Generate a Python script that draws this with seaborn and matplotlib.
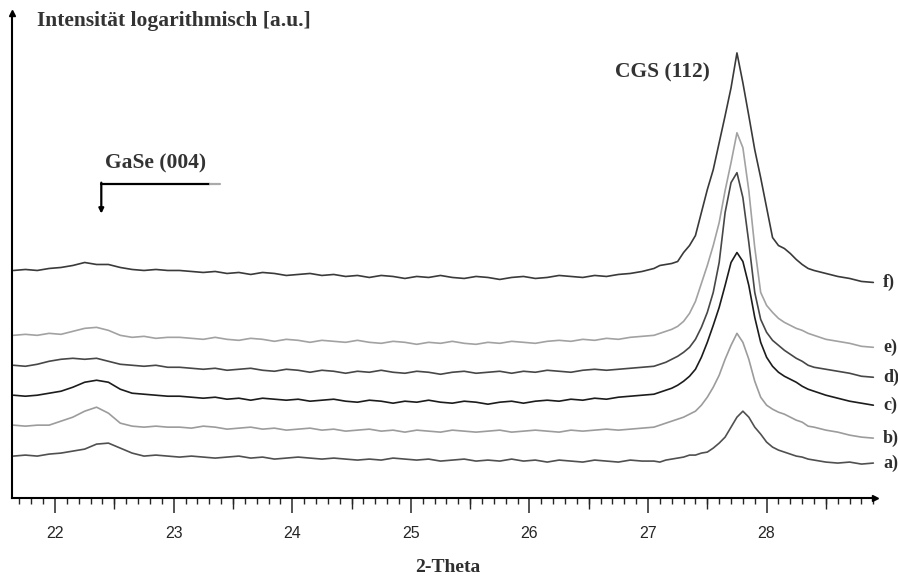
import numpy as np
import pandas as pd
import matplotlib
matplotlib.use("Agg")
import matplotlib.pyplot as plt
import seaborn as sns
from matplotlib.ticker import MultipleLocator, FixedLocator, NullFormatter

sns.set_style("white")
plt.rcParams["font.family"] = ["Liberation Serif", "DejaVu Serif"]

# 2-theta sampling: coarse over the flat background, finer across the CGS (112) reflection
two_theta = np.round(np.concatenate([
    np.linspace(21.65, 27.05, 55),
    np.linspace(27.10, 28.40, 27),
    np.linspace(28.50, 28.90, 5),
]), 3)

# logarithmic intensity (a.u.), patterns offset vertically, sample a) at the bottom
curve_a = [41, 42, 41, 43, 44, 46, 48, 53, 54, 49, 44, 41, 42, 41,
           40, 41, 40, 39, 40, 41, 39, 40, 38, 39, 40, 39, 38, 39, 38, 37, 38, 37, 39, 38,
           37, 38, 36, 37, 38, 36, 37, 36, 38, 36, 37, 35, 37, 36, 35, 37, 36, 35, 37, 36,
           36,
           35, 37, 38, 39, 40, 42, 42, 44, 45, 49, 54, 60, 70, 80, 86, 80, 70, 63, 55, 50,
           47, 45, 43, 41, 40, 38, 37,
           35, 34, 35, 33, 34]
curve_b = [72, 71, 72, 72, 76, 80, 86, 90, 84, 74, 71, 70, 71, 70,
           70, 69, 71, 70, 68, 69, 70, 68, 69, 67, 68, 69, 67, 68, 66, 67, 68, 66, 67, 65,
           67, 66, 65, 67, 66, 65, 66, 67, 65, 66, 67, 66, 65, 67, 66, 67, 68, 67, 68, 69,
           70,
           72, 74, 76, 78, 80, 83, 86, 92, 100, 110, 122, 138, 152, 164, 155, 138, 116, 100,
           92, 88, 85, 83, 80, 77, 75, 71, 70,
           67, 65, 62, 60, 59]
curve_c = [102, 101, 102, 104, 106, 110, 115, 117, 115, 108, 104, 103, 102, 101,
           101, 100, 99, 100, 98, 99, 97, 99, 98, 97, 98, 96, 97, 98, 96, 95, 97, 96, 94, 96,
           95, 97, 95, 94, 96, 95, 93, 95, 96, 94, 96, 97, 96, 98, 97, 99, 98, 100, 101, 102,
           103,
           105, 107, 109, 112, 116, 121, 128, 140, 155, 172, 190, 212, 235, 245, 236, 212,
           180, 155, 140, 131, 125, 121, 118, 115, 111, 108, 106,
           102, 99, 96, 94, 92]
curve_d = [132, 131, 133, 136, 138, 139, 138, 139, 136, 133, 132, 131, 132, 130,
           130, 129, 128, 129, 127, 128, 129, 127, 126, 128, 127, 125, 127, 126, 124, 126,
           125, 127, 125, 124, 126, 125, 123, 125, 126, 124, 125, 126, 124, 126, 125, 127,
           126, 125, 127, 128, 127, 128, 129, 130,
           131,
           133, 135, 138, 141, 145, 150, 158, 170, 185, 205, 235, 285, 315, 325, 300, 255,
           205, 178, 165, 157, 152, 147, 143, 139, 136, 132, 130,
           128, 126, 124, 121, 120]
curve_e = [162, 163, 162, 164, 163, 166, 169, 170, 167, 162, 160, 161, 159, 160,
           160, 159, 158, 160, 158, 157, 159, 158, 156, 158, 157, 155, 157, 156, 155, 157,
           155, 154, 156, 155, 153, 155, 154, 156, 154, 153, 155, 154, 156, 155, 154, 156,
           157, 156, 158, 157, 159, 158, 160, 161,
           162,
           164, 166, 168, 171, 176, 184, 196, 214, 232, 252, 275, 307, 335, 365, 350, 307,
           250, 205, 192, 185, 179, 175, 172, 169, 167, 164, 162,
           158, 156, 154, 151, 150]
curve_f = [227, 228, 227, 229, 230, 232, 235, 233, 233, 230, 228, 227, 228, 227,
           227, 226, 225, 226, 224, 225, 223, 225, 224, 222, 223, 224, 222, 223, 221, 222,
           220, 222, 221, 219, 221, 220, 222, 220, 219, 221, 220, 218, 220, 221, 219, 220,
           222, 221, 220, 222, 221, 223, 224, 226,
           229,
           232, 233, 234, 236, 245, 252, 262, 285, 308, 328, 355, 382, 410, 445, 415, 382,
           348, 320, 290, 260, 252, 249, 244, 238, 233, 229, 227,
           224, 221, 219, 216, 215]

sample_labels = ["a)", "b)", "c)", "d)", "e)", "f)"]
curves = [curve_a, curve_b, curve_c, curve_d, curve_e, curve_f]
line_colors = ["#505050", "#9c9c9c", "#1c1c1c", "#474747", "#a2a2a2", "#3a3a3a"]

df = pd.concat(
    [pd.DataFrame({"two_theta": two_theta, "intensity": vals, "sample": lab})
     for lab, vals in zip(sample_labels, curves)],
    ignore_index=True,
)

fig = plt.figure(figsize=(8.98, 5.81), dpi=100)
ax = fig.add_axes([12 / 898, 1 - 498 / 581, 863 / 898, 485 / 581])

sns.lineplot(data=df, x="two_theta", y="intensity", hue="sample",
             palette=dict(zip(sample_labels, line_colors)), estimator=None,
             sort=False, legend=False, linewidth=1.2, ax=ax)

ax.set_xlim(21.637, 28.914)
ax.set_ylim(-1, 485)
ax.set_ylabel("")

# axes: only left and bottom spines, with small arrow heads
for side in ("top", "right"):
    ax.spines[side].set_visible(False)
for side in ("left", "bottom"):
    ax.spines[side].set_linewidth(1.5)
    ax.spines[side].set_color("black")
ax.plot(1, 0, marker=">", ms=4, color="black", transform=ax.transAxes, clip_on=False)
ax.plot(0, 1, marker="^", ms=4, color="black", transform=ax.transAxes, clip_on=False)

ax.set_yticks([])
ax.xaxis.set_major_locator(MultipleLocator(1))
ax.xaxis.set_minor_locator(MultipleLocator(0.1))
ax.tick_params(axis="x", which="major", direction="out", length=10.5, width=1.1,
               pad=10, labelsize=11.5, bottom=True)
ax.tick_params(axis="x", which="minor", direction="out", length=4.3, width=1.0, bottom=True)
for t in ax.get_xticklabels():
    t.set_fontfamily("Liberation Sans")

# half-unit ticks, slightly longer than the tenths
half = ax.secondary_xaxis("bottom")
half.xaxis.set_major_locator(FixedLocator(np.arange(22.5, 28.6, 1.0)))
half.xaxis.set_major_formatter(NullFormatter())
half.tick_params(axis="x", direction="out", length=8, width=1.0)
half.spines["bottom"].set_visible(False)

ax.set_xlabel("2-Theta", fontsize=14, fontweight="bold", color="#2e2e2e")
ax.xaxis.set_label_coords(0.505, -0.126)

fig.text(37 / 898, 1 - 21 / 581, "Intensität logarithmisch [a.u.]", fontsize=15.5,
         fontweight="bold", color="#333333", va="center", ha="left")

ax.text(26.72, 497 - 72, "CGS (112)", fontsize=15.5, fontweight="bold",
        color="#333333", va="center", ha="left")
ax.text(22.42, 497 - 163, "GaSe (004)", fontsize=15.5, fontweight="bold",
        color="#333333", va="center", ha="left")

# bracket arrow pointing down to the GaSe reflection
ax.plot([23.31, 22.39], [497 - 183, 497 - 183], color="black", lw=1.6)
ax.plot([23.39, 23.31], [497 - 183, 497 - 183], color="#aaaaaa", lw=1.6)
ax.annotate("", xy=(22.39, 497 - 213), xytext=(22.39, 497 - 182),
            arrowprops=dict(arrowstyle="-|>", color="black", lw=1.6,
                            mutation_scale=7, shrinkA=0, shrinkB=0))

# sample labels at the right end of each pattern
for lab, vals in zip(sample_labels, curves):
    ax.annotate(lab, xy=(two_theta[-1], vals[-1]), xytext=(7, 0),
                textcoords="offset points", fontsize=13, fontweight="bold",
                color="#2e2e2e", va="center", ha="left", annotation_clip=False)

fig.savefig("out.png", dpi=100)
